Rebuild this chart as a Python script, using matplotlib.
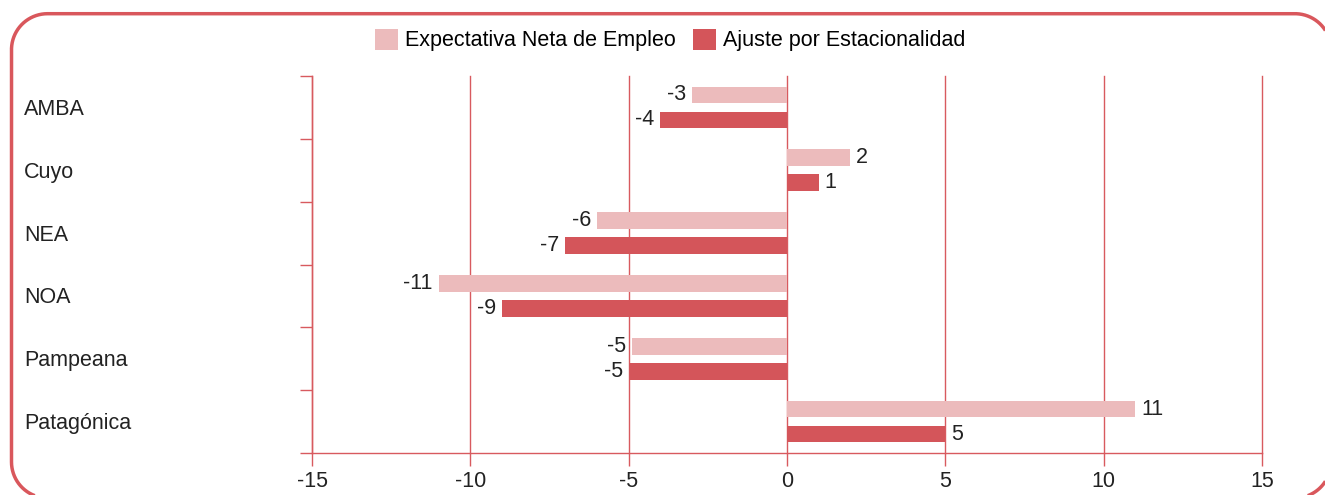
"""
Expectativa neta de empleo por región: barras horizontales agrupadas.
"""

import matplotlib
matplotlib.use('Agg')
import matplotlib.pyplot as plt
import matplotlib.transforms as mtrans
from matplotlib.lines import Line2D
from matplotlib.patches import Patch
import numpy as np

REGIONS = ['AMBA', 'Cuyo', 'NEA', 'NOA', 'Pampeana', 'Patagónica']
NETA = [-3, 2, -6, -11, -4.9, 11]
AJUSTE = [-4, 1, -7, -9, -5, 5]
SERIES = ['Expectativa Neta de Empleo', 'Ajuste por Estacionalidad']
XTICKS = [-15, -10, -5, 0, 5, 10, 15]

LIGHT = '#ecbbbc'
DARK = '#d4555a'
LINE = '#d85a5f'
TEXT = '#222222'
FS = 15.5

plt.rcParams['font.family'] = ['Liberation Sans', 'DejaVu Sans']

W, H = 1325, 495
fig = plt.figure(figsize=(W / 100, H / 100), dpi=100)
ax = fig.add_axes([312 / W, 1 - 453 / H, 950 / W, 377 / H])

y = np.arange(len(REGIONS))
off, bh = 0.2, 0.265
b1 = ax.barh(y - off, NETA, height=bh, color=LIGHT, zorder=3)
b2 = ax.barh(y + off, AJUSTE, height=bh, color=DARK, zorder=3)

# value labels next to bar ends
for bars, vals in ((b1, NETA), (b2, AJUSTE)):
    for rect, v in zip(bars, vals):
        cy = rect.get_y() + rect.get_height() / 2
        ax.annotate(f'{round(v):d}', (v, cy), xytext=(6 if v >= 0 else -6, 0),
                    textcoords='offset pixels', ha='left' if v >= 0 else 'right',
                    va='center', fontsize=FS, color=TEXT, zorder=4)

ax.set_xlim(-15, 15)
ax.set_ylim(len(REGIONS) - 0.5, -0.5)
ax.set_xticks(XTICKS)
ax.set_xticklabels([str(t) for t in XTICKS], fontsize=FS)
ax.set_yticks(np.arange(len(REGIONS) + 1) - 0.5)
ax.set_yticklabels([])
ax.tick_params(axis='both', colors=LINE, length=9, width=1, direction='out')
ax.tick_params(axis='x', labelcolor=TEXT, pad=4)
ax.grid(axis='x', color=LINE, linewidth=1, zorder=0)
for gl in ax.get_xgridlines():
    gl.set_clip_on(False)
for s in ('top', 'right'):
    ax.spines[s].set_visible(False)
for s in ('left', 'bottom'):
    ax.spines[s].set_color(LINE)
    ax.spines[s].set_linewidth(1)

# category names, left-aligned near the frame
lab_tr = mtrans.blended_transform_factory(mtrans.IdentityTransform(), ax.transData)
for i, name in enumerate(REGIONS):
    ax.annotate(name, (24, i), xycoords=lab_tr, xytext=(0, -2),
                textcoords='offset pixels', ha='left', va='center',
                fontsize=FS, color=TEXT, annotation_clip=False)

handles = [Patch(facecolor=LIGHT), Patch(facecolor=DARK)]
fig.legend(handles, SERIES, loc='center', bbox_to_anchor=(670 / W, 1 - 40 / H),
           ncol=2, frameon=False, fontsize=FS, handlelength=1.1, handleheight=1.15,
           handletextpad=0.3, columnspacing=0.8, borderpad=0)


# rounded frame; it runs past the right and bottom edges, so draw only the
# visible runs as open polylines (closed paths get clipped with edge artefacts)
def frame_points(x0, y0, x1, y1, r):
    pts = []
    def arc(cx, cy, a0, a1):
        t = np.radians(np.linspace(a0, a1, 40))
        pts.extend(zip(cx + r * np.cos(t), cy + r * np.sin(t)))
    def edge(xa, ya, xb, yb):
        n = int(max(abs(xb - xa), abs(yb - ya))) + 2
        pts.extend(zip(np.linspace(xa, xb, n), np.linspace(ya, yb, n)))
    # image coords (y down)
    arc(x0 + r, y0 + r, 180, 270)
    edge(x0 + r, y0, x1 - r, y0)
    arc(x1 - r, y0 + r, 270, 360)
    edge(x1, y0 + r, x1, y1 - r)
    arc(x1 - r, y1 - r, 0, 90)
    edge(x1 - r, y1, x0 + r, y1)
    arc(x0 + r, y1 - r, 90, 180)
    edge(x0, y1 - r, x0, y0 + r)
    return np.array(pts)


pts = frame_points(11.5, 13.7, 1331, 498, 36)
inside = (pts[:, 0] <= W + 1) & (pts[:, 1] <= H + 1)
# rotate so that the sequence starts on an outside point
start = int(np.argmin(inside))
pts, inside = np.roll(pts, -start, axis=0), np.roll(inside, -start)
runs, cur = [], []
for p, ok in zip(pts, inside):
    if ok:
        cur.append(p)
    elif cur:
        runs.append(np.array(cur))
        cur = []
if cur:
    runs.append(np.array(cur))
for run in runs:
    fig.add_artist(Line2D(run[:, 0], H - run[:, 1], transform=mtrans.IdentityTransform(),
                          color='#d9575c', linewidth=2.5, solid_capstyle='butt',
                          solid_joinstyle='round'))

fig.savefig('out.png', dpi=100)
